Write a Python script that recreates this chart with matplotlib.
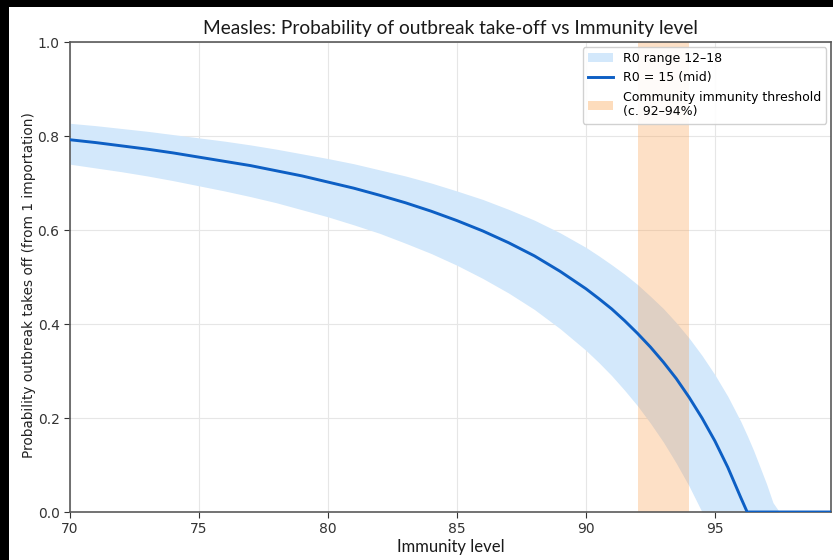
import matplotlib
matplotlib.use("Agg")
import matplotlib.pyplot as plt
from matplotlib.patches import Patch, Rectangle
from matplotlib.lines import Line2D

# Immunity level (%) and outbreak take-off probability
immunity = [70, 71, 72, 73, 74, 75, 76, 77, 78, 79, 80, 81, 82, 83, 84, 85, 86, 87, 88, 89, 90,
            90.5, 91, 91.5, 92, 92.5, 93, 93.5, 94, 94.5, 95, 95.5, 96,
            96.25, 96.5, 97, 97.25, 97.5, 98, 98.5, 99, 99.5]
p_mid = [0.792, 0.786, 0.779, 0.772, 0.764, 0.755, 0.746, 0.737, 0.726, 0.715, 0.702,
         0.689, 0.674, 0.658, 0.640, 0.620, 0.598, 0.573, 0.545, 0.512, 0.475,
         0.454, 0.432, 0.407, 0.380, 0.351, 0.319, 0.284, 0.244, 0.200, 0.151, 0.095, 0.031,
         0, 0, 0, 0, 0, 0, 0, 0, 0]
p_low = [0.740, 0.732, 0.724, 0.715, 0.705, 0.694, 0.683, 0.671, 0.658, 0.643, 0.628,
         0.611, 0.593, 0.572, 0.550, 0.525, 0.497, 0.466, 0.431, 0.390, 0.344,
         0.318, 0.290, 0.259, 0.226, 0.189, 0.149, 0.104, 0.055, 0.000, 0, 0, 0,
         0, 0, 0, 0, 0, 0, 0, 0, 0]
p_high = [0.827, 0.822, 0.816, 0.810, 0.803, 0.796, 0.789, 0.781, 0.772, 0.762, 0.752,
          0.741, 0.728, 0.715, 0.700, 0.683, 0.665, 0.644, 0.621, 0.594, 0.563,
          0.545, 0.526, 0.506, 0.484, 0.459, 0.433, 0.403, 0.370, 0.333, 0.292, 0.246, 0.193,
          0.163, 0.131, 0.060, 0.020, 0, 0, 0, 0, 0]
threshold = (92, 94)

fig = plt.figure(figsize=(8.33, 5.6), dpi=100, facecolor="black")
# white screenshot area inside the black frame
fig.patches.append(Rectangle((9 / 833, 0), 1, 553 / 560, transform=fig.transFigure,
                             facecolor="white", edgecolor="none", zorder=-10))
ax = fig.add_axes([70 / 833, 48 / 560, 761 / 833, 470 / 560])

band_c = "#d3e8fb"
line_c = "#0d5fc4"
thr_c = "#fddcbc"

ax.fill_between(immunity, p_low, p_high, color=band_c, lw=0, zorder=1)
ax.axvspan(*threshold, color="#fb9a45", alpha=0.3, lw=0, zorder=2)
ax.plot(immunity, p_mid, color=line_c, lw=2.1, zorder=3)

ax.set_xlim(70, 99.5)
ax.set_ylim(0, 1.0)
ax.set_xticks([70, 75, 80, 85, 90, 95])
ax.set_yticks([0, 0.2, 0.4, 0.6, 0.8, 1.0])
ax.grid(True, color="#e6e6e6", lw=0.8, zorder=0)
ax.set_axisbelow(True)
for s in ax.spines.values():
    s.set_color("#5a5a5a")
    s.set_linewidth(1.2)
ax.tick_params(colors="#333333", labelsize=10, length=4)

ax.set_title("Measles: Probability of outbreak take-off vs Immunity level",
             fontsize=13.8, family="Lato", color="#1a1a1a", pad=6)
ax.set_xlabel("Immunity level", fontsize=12, family="Lato", color="#1a1a1a", labelpad=2)
ax.set_ylabel("Probability outbreak takes off (from 1 importation)", fontsize=9.8,
              color="#222222")
ax.yaxis.set_label_coords(-0.045, 0.483)

handles = [Patch(facecolor=band_c, edgecolor="none", label="R0 range 12–18"),
           Line2D([0], [0], color=line_c, lw=2.1, label="R0 = 15 (mid)"),
           Patch(facecolor=thr_c, edgecolor="none",
                 label="Community immunity threshold\n(c. 92–94%)")]
ax.legend(handles=handles, loc="upper right", fontsize=9, framealpha=0.9,
          edgecolor="#cccccc", handlelength=2, borderaxespad=0.4)

fig.savefig("out.png", dpi=100, facecolor=fig.get_facecolor())
